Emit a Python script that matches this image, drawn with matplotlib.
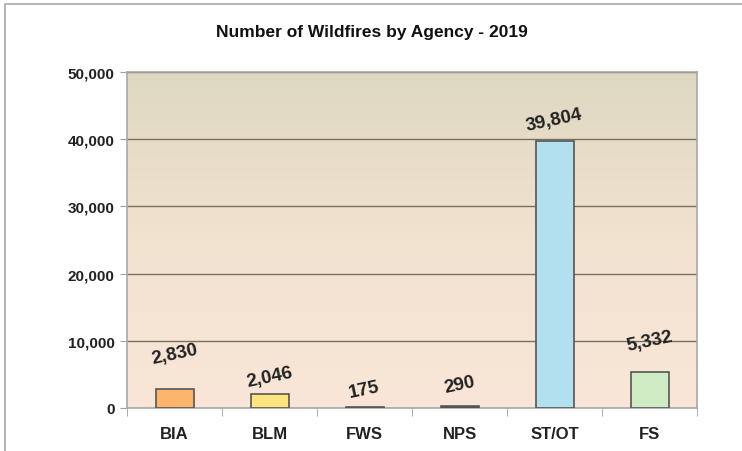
import numpy as np
import matplotlib.pyplot as plt
from matplotlib.colors import LinearSegmentedColormap
from matplotlib.patches import Rectangle

plt.rcParams['font.family'] = ['Liberation Sans', 'DejaVu Sans']

# data
agencies = ['BIA', 'BLM', 'FWS', 'NPS', 'ST/OT', 'FS']
fires = [2830, 2046, 175, 290, 39804, 5332]
bar_colors = ['#FDB46C', '#FCE57C', '#6A5A70', '#6A5A70', '#B2E0EE', '#CFEBC3']
# how far each value label sits above its bar (points), as in the original
label_gap = [16, 3, 4, 7, 5, 13]

fig = plt.figure(figsize=(7.42, 4.52), dpi=100)
fig.patch.set_facecolor('white')
# thin frame around the chart area (only top and left visible in the original)
fig.add_artist(Rectangle((5 / 742, -0.1), 1.2, 1 - 5 / 452 + 0.1, transform=fig.transFigure,
                         fill=False, edgecolor='#A8A8A8', linewidth=1.2))

ax = fig.add_axes([127 / 742, 1 - 409 / 452, 570 / 742, 336 / 452])

# vertical gradient background: tan at the top, peach at the bottom
cmap = LinearSegmentedColormap.from_list('bg', ['#F9E6D8', '#F2E2D0', '#DED8C2'])
grad = np.linspace(0, 1, 256).reshape(-1, 1)
ax.imshow(grad, cmap=cmap, aspect='auto', extent=[0, 1, 0, 1], origin='lower',
          transform=ax.transAxes, zorder=0)

x = np.arange(len(agencies))
ax.bar(x, fires, width=0.4, color=bar_colors, edgecolor='#555555', linewidth=1.2, zorder=3)

for xi, v, gap in zip(x, fires, label_gap):
    ax.annotate(f'{v:,}', (xi, v), xytext=(0, gap), textcoords='offset points',
                ha='center', va='bottom', rotation=12, fontsize=13.5, fontweight='bold',
                color='#222222', zorder=4)

ax.set_xlim(-0.5, len(agencies) - 0.5)
ax.set_ylim(0, 50000)
ax.set_yticks(np.arange(0, 50001, 10000))
ax.set_yticklabels([f'{t:,}' for t in range(0, 50001, 10000)])
ax.yaxis.grid(True, color='#77725F', linewidth=1.0, zorder=1)
ax.set_axisbelow(True)

ax.set_xticks(x)
ax.set_xticklabels(agencies)
ax.set_xticks(np.arange(-0.5, len(agencies)), minor=True)
ax.tick_params(axis='x', which='major', length=0, pad=13, labelsize=12)
ax.tick_params(axis='x', which='minor', length=6, color='#A0A0A0', direction='out')
ax.tick_params(axis='y', length=5, color='#A0A0A0', labelsize=11, pad=4)
for lab in ax.get_xticklabels() + ax.get_yticklabels():
    lab.set_fontweight('bold')
    lab.set_color('#222222')

for side in ['top', 'right', 'left', 'bottom']:
    ax.spines[side].set_color('#A8A8A8')
    ax.spines[side].set_linewidth(1.2)

fig.text(372 / 742, 1 - 32 / 452, 'Number of Wildfires by Agency - 2019', ha='center', va='center',
         fontsize=12.5, fontweight='bold', color='#111111')

fig.savefig('out.png', dpi=100)
